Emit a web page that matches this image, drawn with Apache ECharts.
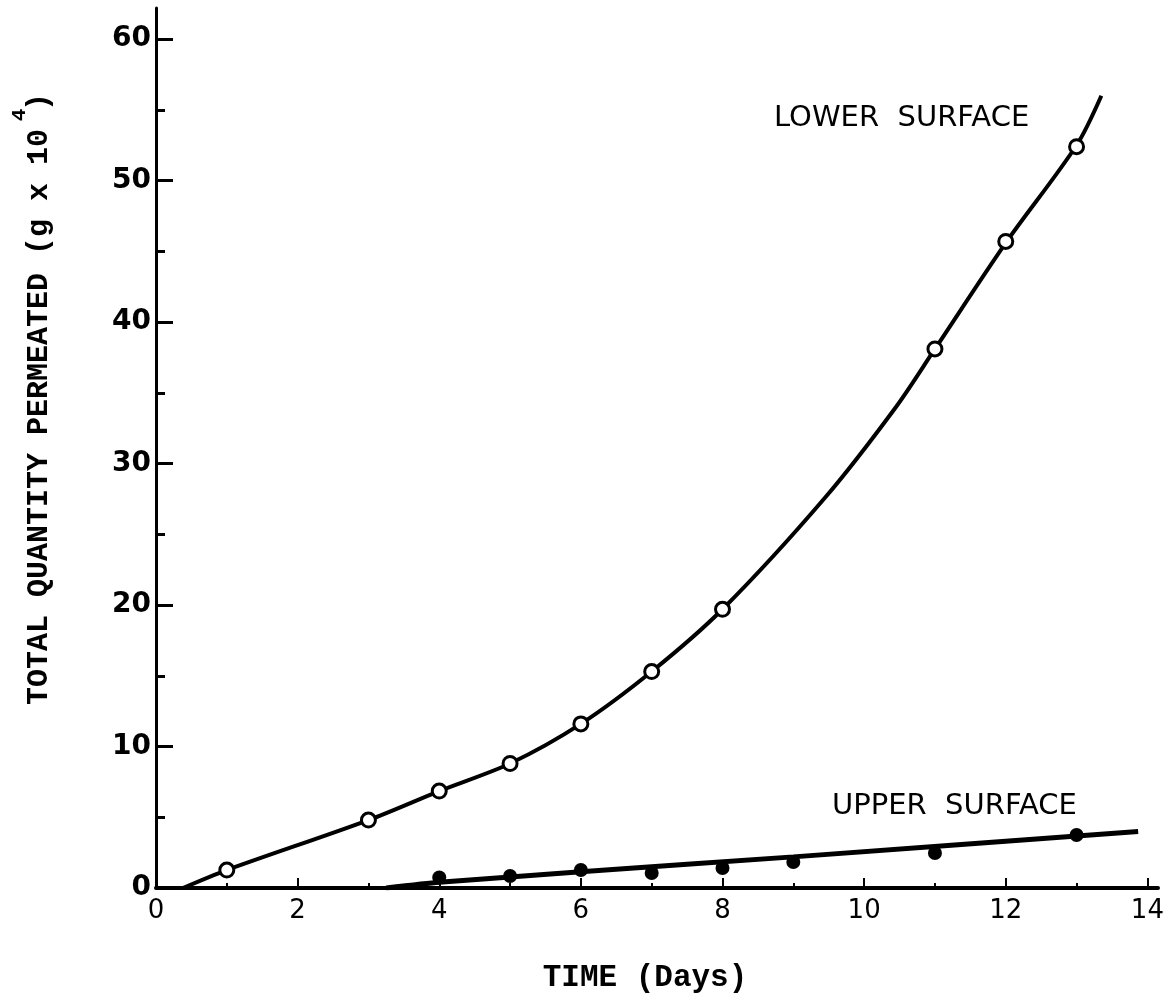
<!DOCTYPE html>
<html>
<head>
<meta charset="utf-8">
<script src="https://cdn.jsdelivr.net/npm/echarts@6/dist/echarts.min.js"></script>
<style>
html,body{margin:0;padding:0;background:#fff;}
#chart{width:1168px;height:995px;}
</style>
</head>
<body>
<div id="chart"></div>
<script>
// ---- data ----
const xLabelValues = [0, 2, 4, 6, 8, 10, 12, 14];
const xMajorTicks = [2, 4, 6, 8, 10, 12, 14];
const xMinorTicks = [1, 3, 5, 7, 9, 11, 13];
const yLabelValues = [0, 10, 20, 30, 40, 50, 60];
const yMajorTicks = [10, 20, 30, 40, 50, 60];
const yMinorTicks = [5, 15, 25, 35, 45, 55];

// measured points (day, g x 10^4)
const lowerPoints = [[1, 1.27], [3, 4.8], [4, 6.85], [5, 8.8], [6, 11.6], [7, 15.3], [8, 19.7], [11, 38.1], [12, 45.7], [13, 52.4]];
const upperPoints = [[4, 0.75], [5, 0.85], [6, 1.27], [7, 1.06], [8, 1.41], [9, 1.84], [11, 2.47], [13, 3.75]];

// hand-drawn fitted curves
const lowerCurve = [[0.38, 0], [1, 1.27], [3, 4.8], [4, 6.85], [5, 8.8], [6, 11.6], [7, 15.3], [8, 19.7], [9.45, 27.6], [10.45, 34.0], [11, 38.1], [12, 45.6], [13, 52.5], [13.35, 56.0]];
const upperCurve = [[3.25, 0], [4, 0.4], [6, 1.15], [9, 2.2], [13.87, 4.0]];

const xTitle = 'TIME (Days)';
const yTitle = 'TOTAL QUANTITY PERMEATED (g x 10 )';
const yTitleSup = '4';
const lowerName = 'LOWER  SURFACE';
const upperName = 'UPPER  SURFACE';

// ---- chart ----
const chart = echarts.init(document.getElementById('chart'), null, {renderer: 'canvas'});
const X_MAX = 14.15, Y_MAX = 62.2;
const black = '#000';
const tickFont = 'DejaVu Sans';

function xAxisBase(extra) {
  return Object.assign({
    type: 'value', min: 0, max: X_MAX, interval: 1, position: 'bottom',
    splitLine: {show: false}
  }, extra);
}
function yAxisBase(extra) {
  return Object.assign({
    type: 'value', min: 0, max: Y_MAX, interval: 5, position: 'left',
    splitLine: {show: false}
  }, extra);
}

const option = {
  backgroundColor: '#fff',
  animation: false,
  grid: {left: 156, right: 10, top: 8, bottom: 107, containLabel: false},
  xAxis: [
    xAxisBase({
      axisLine: {show: true, lineStyle: {color: black, width: 4}},
      axisTick: {show: true, inside: true, length: 10, customValues: xMajorTicks, lineStyle: {color: black, width: 2}},
      axisLabel: {show: true, customValues: xLabelValues, margin: 10, color: black,
        fontFamily: tickFont, fontSize: 26, formatter: v => String(v)}
    }),
    xAxisBase({
      axisLine: {show: false},
      axisTick: {show: true, inside: true, length: 5, customValues: xMinorTicks, lineStyle: {color: black, width: 2}},
      axisLabel: {show: false}
    })
  ],
  yAxis: [
    yAxisBase({
      axisLine: {show: true, lineStyle: {color: black, width: 3}},
      axisTick: {show: true, inside: true, length: 17, customValues: yMajorTicks, lineStyle: {color: black, width: 3}},
      axisLabel: {show: true, customValues: yLabelValues, margin: 5, color: black,
        fontFamily: tickFont, fontWeight: 'bold', fontSize: 28, formatter: v => String(v)}
    }),
    yAxisBase({
      axisLine: {show: false},
      axisTick: {show: true, inside: true, length: 9, customValues: yMinorTicks, lineStyle: {color: black, width: 3}},
      axisLabel: {show: false}
    })
  ],
  graphic: [
    {type: 'text', x: 39, y: 399, rotation: Math.PI / 2,
      style: {text: yTitle, font: 'bold 30px "Liberation Mono"', fill: black, align: 'center', verticalAlign: 'middle'}},
    {type: 'text', x: 20, y: 115, rotation: Math.PI / 2,
      style: {text: yTitleSup, font: 'bold 21px "Liberation Mono"', fill: black, align: 'center', verticalAlign: 'middle'}},
    {type: 'text', x: 645, y: 978,
      style: {text: xTitle, font: 'bold 31px "Liberation Mono"', fill: black, align: 'center', verticalAlign: 'middle'}},
    {type: 'text', x: 774, y: 118,
      style: {text: lowerName, font: '29px "DejaVu Sans"', fill: black, align: 'left', verticalAlign: 'middle'}},
    {type: 'text', x: 832, y: 806,
      style: {text: upperName, font: '29px "DejaVu Sans"', fill: black, align: 'left', verticalAlign: 'middle'}}
  ],
  series: [
    {type: 'line', name: 'lower fit', data: lowerCurve, smooth: 0.3, showSymbol: false, symbol: 'none',
      lineStyle: {color: black, width: 4}, z: 3},
    {type: 'line', name: 'upper fit', data: upperCurve, smooth: 0.2, showSymbol: false, symbol: 'none',
      lineStyle: {color: black, width: 5}, z: 3},
    {type: 'scatter', name: 'lower', data: lowerPoints, symbol: 'circle', symbolSize: 14,
      itemStyle: {color: '#fff', borderColor: black, borderWidth: 3, opacity: 1}, z: 5},
    {type: 'scatter', name: 'upper', data: upperPoints, symbol: 'circle', symbolSize: 14,
      itemStyle: {color: black, opacity: 1}, z: 5}
  ]
};
chart.setOption(option);
</script>
</body>
</html>
